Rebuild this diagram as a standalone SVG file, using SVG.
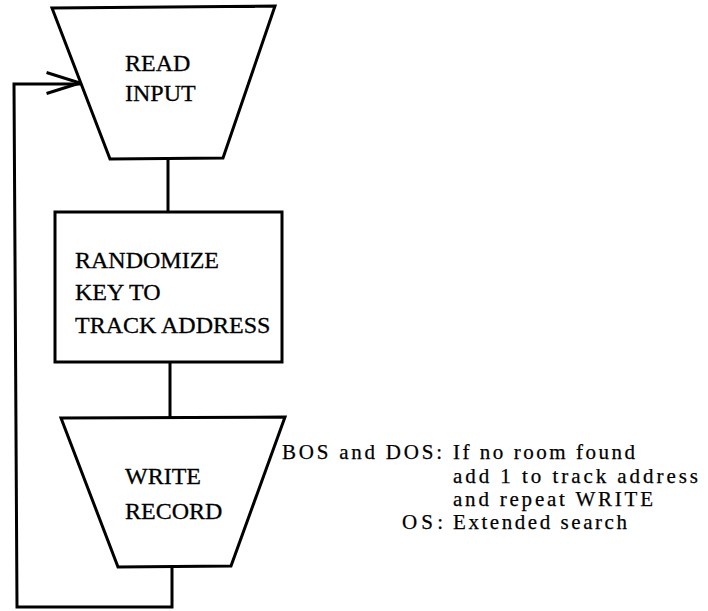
<svg xmlns="http://www.w3.org/2000/svg" width="708" height="611" viewBox="0 0 708 611">
  <style>
    .shape { fill: #fff; stroke: #000; stroke-width: 3; stroke-linejoin: miter; }
    .line { fill: none; stroke: #000; stroke-width: 3; stroke-linecap: square; stroke-linejoin: miter; }
    .label { font-family: "Liberation Serif", "Times New Roman", serif; font-size: 24px; fill: #000; stroke: #000; stroke-width: 0.3; }
    .note { font-family: "Liberation Serif", "Times New Roman", serif; font-size: 21px; fill: #000; stroke: #000; stroke-width: 0.25; }
  </style>
  <rect width="708" height="611" fill="#fff"/>

  <!-- connectors -->
  <g id="connectors">
    <path class="line" d="M168,158 V212"/>
    <path class="line" d="M170,362 V418"/>
    <!-- loop back from WRITE RECORD to READ INPUT -->
    <path class="line" d="M172,567 V607 H17 L14,84 H79"/>
    <path class="line" d="M48,73 L80,83 L48,93"/>
  </g>

  <g id="read-input">
    <polygon class="shape" points="52,8 275,6 223,158 110,159"/>
    <text class="label" x="125" y="71">READ</text>
    <text class="label" x="125" y="101">INPUT</text>
  </g>

  <g id="randomize">
    <rect class="shape" x="55" y="212" width="227" height="150"/>
    <text class="label" x="75" y="268">RANDOMIZE</text>
    <text class="label" x="75" y="300">KEY TO</text>
    <text class="label" x="75" y="333">TRACK ADDRESS</text>
  </g>

  <g id="write-record">
    <polygon class="shape" points="61,418 285,417 231,566 118,567"/>
    <text class="label" x="125" y="484">WRITE</text>
    <text class="label" x="125" y="519">RECORD</text>
  </g>

  <g id="note">
    <text class="note" x="282" y="459" textLength="160" lengthAdjust="spacing">BOS and DOS:</text>
    <text class="note" x="453" y="459" textLength="182" lengthAdjust="spacing">If no room found</text>
    <text class="note" x="453" y="483" textLength="245" lengthAdjust="spacing">add 1 to track address</text>
    <text class="note" x="453" y="506" textLength="200" lengthAdjust="spacing">and repeat WRITE</text>
    <text class="note" x="402" y="529" textLength="41" lengthAdjust="spacing">OS:</text>
    <text class="note" x="453" y="529" textLength="174" lengthAdjust="spacing">Extended search</text>
  </g>
</svg>
